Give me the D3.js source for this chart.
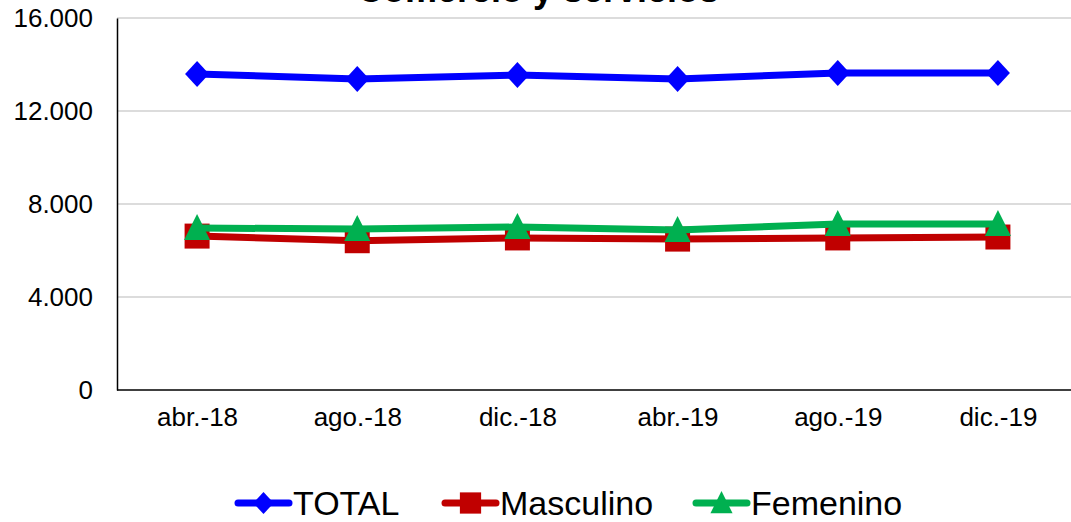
<!DOCTYPE html>
<html lang="es">
<head>
    <meta charset="UTF-8">
    <title>Comercio y servicios</title>
    <script src="https://d3js.org/d3.v7.min.js"></script>
    <style>
        body { margin: 0; background: #fff; }
        svg { display: block; font-family: "Liberation Sans", Arial, sans-serif; }
    </style>
</head>
<body>
    <div id="chart"></div>
    <script>
        // Datos
        var categories = ["abr.-18", "ago.-18", "dic.-18", "abr.-19", "ago.-19", "dic.-19"];
        var total = [13590, 13380, 13550, 13380, 13630, 13630];
        var masculino = [6620, 6420, 6540, 6490, 6540, 6580];
        var femenino = [6970, 6920, 7010, 6880, 7140, 7140];
        var yTicks = [0, 4000, 8000, 12000, 16000];
        var seriesNames = ["TOTAL", "Masculino", "Femenino"];

        var width = 1071, height = 522;
        var plotLeft = 117, plotRight = 1078, plotTop = 18, plotBottom = 390;

        var svg = d3.select("#chart").append("svg")
            .attr("width", width)
            .attr("height", height);

        var x = d3.scalePoint().domain(categories).range([plotLeft, plotRight]).padding(0.5);
        var y = d3.scaleLinear().domain([0, 16000]).range([plotBottom, plotTop]);

        // titulo (cortado arriba como en el original)
        svg.append("text")
            .attr("x", 538).attr("y", 2)
            .attr("text-anchor", "middle")
            .style("font-size", "36px").style("font-weight", "bold")
            .text("Comercio y servicios");

        // lineas de cuadricula
        svg.append("g").selectAll("line")
            .data(yTicks.filter(function(d) { return d > 0; }))
            .enter().append("line")
            .attr("x1", plotLeft).attr("x2", plotRight)
            .attr("y1", function(d) { return y(d); })
            .attr("y2", function(d) { return y(d); })
            .attr("stroke", "#d0d0d0").attr("stroke-width", 1.5);

        // eje Y
        var fmt = function(d) { return d3.format(",")(d).replace(/,/g, "."); };
        var yAxis = svg.append("g")
            .attr("transform", "translate(" + plotLeft + ",0)")
            .call(d3.axisLeft(y).tickValues(yTicks).tickSize(0).tickPadding(24).tickFormat(fmt));
        yAxis.select(".domain").attr("stroke", "#000").attr("stroke-width", 1.5);
        yAxis.selectAll("text").style("font-size", "26px").attr("fill", "#000")
            .attr("font-family", null);

        // eje X
        var xAxis = svg.append("g")
            .attr("transform", "translate(0," + plotBottom + ")")
            .call(d3.axisBottom(x).tickSize(0).tickPadding(18));
        xAxis.select(".domain").attr("stroke", "#000").attr("stroke-width", 1.5)
            .attr("d", "M" + plotLeft + ",0H" + plotRight);
        xAxis.selectAll("text").style("font-size", "26px").attr("fill", "#000")
            .attr("font-family", null);

        var series = [
            { name: seriesNames[0], values: total, color: "#0000ff", shape: "diamond" },
            { name: seriesNames[1], values: masculino, color: "#c00000", shape: "square" },
            { name: seriesNames[2], values: femenino, color: "#00b050", shape: "triangle" }
        ];

        function markerPath(shape) {
            if (shape === "diamond") return "M0,-13L12,0L0,13L-12,0Z";
            if (shape === "square") return "M-12.5,-12.5H12.5V12.5H-12.5Z";
            return "M0,-14L13,12H-13Z";
        }

        var line = d3.line()
            .x(function(d, i) { return x(categories[i]); })
            .y(function(d) { return y(d); });

        series.forEach(function(s) {
            var g = svg.append("g");
            g.append("path")
                .attr("d", line(s.values))
                .attr("fill", "none")
                .attr("stroke", s.color)
                .attr("stroke-width", 7)
                .attr("stroke-linejoin", "round");
            g.selectAll("path.m")
                .data(s.values)
                .enter().append("path")
                .attr("class", "m")
                .attr("d", markerPath(s.shape))
                .attr("transform", function(d, i) {
                    return "translate(" + x(categories[i]) + "," + y(d) + ")";
                })
                .attr("fill", s.color);
        });

        // leyenda
        var legendX = [235, 442, 693];
        var legendY = 503;
        series.forEach(function(s, i) {
            var g = svg.append("g").attr("transform", "translate(" + legendX[i] + "," + legendY + ")");
            g.append("line")
                .attr("x1", 3).attr("x2", 54)
                .attr("stroke", s.color).attr("stroke-width", 7)
                .attr("stroke-linecap", "round");
            g.append("path")
                .attr("d", markerPath(s.shape))
                .attr("transform", "translate(28.5,0) scale(0.85)")
                .attr("fill", s.color);
            g.append("text")
                .attr("x", 58).attr("y", 12)
                .style("font-size", "34px")
                .text(s.name);
        });
    </script>
</body>
</html>
